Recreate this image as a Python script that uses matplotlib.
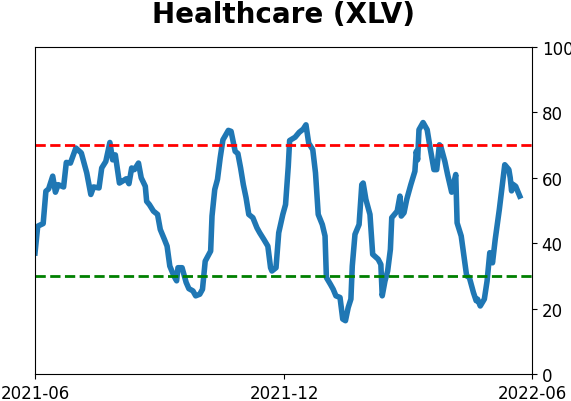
import pandas as pd
import matplotlib
matplotlib.use("Agg")
import matplotlib.pyplot as plt
import matplotlib.dates as mdates

# values
dates = [
    "2021-06-01", "2021-06-03", "2021-06-07", "2021-06-09", "2021-06-11", "2021-06-14",
    "2021-06-16", "2021-06-18", "2021-06-22", "2021-06-24", "2021-06-27", "2021-07-01",
    "2021-07-05", "2021-07-09", "2021-07-12", "2021-07-14", "2021-07-18", "2021-07-20",
    "2021-07-23", "2021-07-26", "2021-07-28", "2021-07-30", "2021-08-02", "2021-08-04",
    "2021-08-07", "2021-08-09", "2021-08-11", "2021-08-13", "2021-08-16", "2021-08-18",
    "2021-08-21", "2021-08-22", "2021-08-24", "2021-08-27", "2021-08-30", "2021-09-01",
    "2021-09-04", "2021-09-06", "2021-09-08", "2021-09-11", "2021-09-13", "2021-09-14",
    "2021-09-17", "2021-09-20", "2021-09-22", "2021-09-25", "2021-09-27", "2021-09-30",
    "2021-10-02", "2021-10-04", "2021-10-08", "2021-10-09", "2021-10-11", "2021-10-13",
    "2021-10-15", "2021-10-17", "2021-10-21", "2021-10-23", "2021-10-26", "2021-10-28",
    "2021-10-30", "2021-11-01", "2021-11-03", "2021-11-05", "2021-11-08", "2021-11-11",
    "2021-11-13", "2021-11-16", "2021-11-19", "2021-11-21", "2021-11-22", "2021-11-25",
    "2021-11-27", "2021-11-30", "2021-12-02", "2021-12-04", "2021-12-05", "2021-12-09",
    "2021-12-12", "2021-12-15", "2021-12-17", "2021-12-19", "2021-12-22", "2021-12-24",
    "2021-12-26", "2021-12-29", "2021-12-31", "2022-01-01", "2022-01-04", "2022-01-06",
    "2022-01-08", "2022-01-11", "2022-01-13", "2022-01-15", "2022-01-17", "2022-01-19",
    "2022-01-20", "2022-01-22", "2022-01-25", "2022-01-27", "2022-01-28", "2022-01-30",
    "2022-02-02", "2022-02-04", "2022-02-08", "2022-02-10", "2022-02-11", "2022-02-13",
    "2022-02-15", "2022-02-17", "2022-02-18", "2022-02-21", "2022-02-22", "2022-02-24",
    "2022-02-25", "2022-02-27", "2022-03-01", "2022-03-04", "2022-03-07", "2022-03-08",
    "2022-03-09", "2022-03-10", "2022-03-13", "2022-03-16", "2022-03-18", "2022-03-21",
    "2022-03-23", "2022-03-25", "2022-03-26", "2022-03-29", "2022-03-31", "2022-04-03",
    "2022-04-06", "2022-04-07", "2022-04-10", "2022-04-12", "2022-04-14", "2022-04-16",
    "2022-04-19", "2022-04-21", "2022-04-22", "2022-04-24", "2022-04-27", "2022-04-29",
    "2022-05-01", "2022-05-03", "2022-05-05", "2022-05-08", "2022-05-12", "2022-05-15",
    "2022-05-16", "2022-05-17", "2022-05-18", "2022-05-20", "2022-05-23",
]
values = [
    37.0, 45.2, 46.0, 55.9, 56.6, 60.5,
    55.6, 57.9, 57.2, 64.7, 64.5, 69.1,
    67.6, 61.5, 54.9, 57.2, 56.9, 63.0,
    65.0, 70.8, 65.5, 67.0, 58.4, 58.9,
    59.7, 58.2, 63.0, 62.5, 64.5, 60.0,
    57.4, 52.8, 51.8, 49.8, 48.8, 44.2,
    41.2, 39.1, 33.0, 30.0, 28.5, 32.5,
    32.5, 28.0, 26.1, 25.4, 23.9, 24.4,
    25.9, 34.5, 37.6, 48.3, 56.4, 59.5,
    66.1, 71.6, 74.5, 74.2, 68.1, 67.4,
    63.0, 57.9, 53.9, 48.8, 47.8, 44.7,
    43.2, 41.2, 39.1, 32.5, 31.5, 32.5,
    43.2, 48.8, 51.8, 63.5, 71.4, 72.4,
    73.9, 74.9, 76.2, 70.6, 68.6, 61.5,
    48.8, 45.7, 42.2, 29.5, 27.4, 25.9,
    23.9, 23.4, 16.8, 16.3, 20.3, 22.9,
    33.0, 42.7, 45.7, 57.9, 58.4, 53.4,
    48.8, 36.6, 35.1, 33.5, 23.9, 28.4,
    31.5, 38.1, 47.8, 49.3, 49.8, 54.4,
    48.3, 49.3, 53.4, 57.9, 62.0, 68.1,
    65.5, 74.7, 76.9, 74.7, 69.6, 62.5,
    62.5, 70.1, 69.6, 65.0, 61.0, 55.6,
    61.0, 46.2, 42.2, 36.1, 30.0, 29.5,
    24.9, 22.4, 22.9, 20.8, 22.9, 28.4,
    37.1, 34.0, 41.2, 50.3, 64.0, 62.5,
    60.0, 56.0, 58.0, 57.4, 54.4,
]
upper_level = 70
lower_level = 30
x_range = ["2021-06-01", "2022-06-01"]

x = pd.to_datetime(dates)

fig = plt.figure(figsize=(5.71, 4.02), dpi=100)
ax = fig.add_axes([0.0613, 0.0672, 0.8704, 0.8134])

ax.plot(x, values, color="#1f77b4", linewidth=4)
ax.axhline(upper_level, color="red", linestyle="--", linewidth=2)
ax.axhline(lower_level, color="green", linestyle="--", linewidth=2)

ax.set_xlim(pd.to_datetime(x_range[0]), pd.to_datetime(x_range[1]))
ax.set_ylim(0, 100)
ax.xaxis.set_major_locator(mdates.MonthLocator(bymonth=[6, 12]))
ax.xaxis.set_major_formatter(mdates.DateFormatter("%Y-%m"))
ax.yaxis.tick_right()
ax.set_yticks([0, 20, 40, 60, 80, 100])
ax.tick_params(labelsize=12)

ax.set_title("Healthcare (XLV)", fontsize=20, fontweight="bold", pad=18)

fig.savefig("out.png", dpi=100)
